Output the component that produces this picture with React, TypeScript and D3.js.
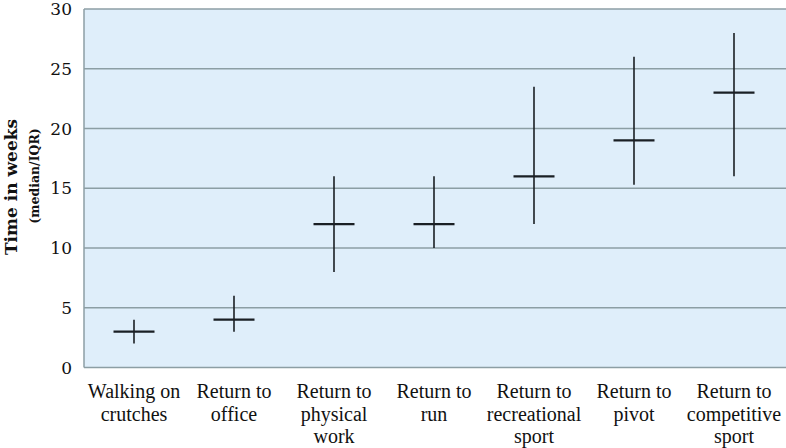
import React from 'react'
import { scaleBand, scaleLinear } from 'd3'

const categories = [
  ['Walking on', 'crutches'],
  ['Return to', 'office'],
  ['Return to', 'physical', 'work'],
  ['Return to', 'run'],
  ['Return to', 'recreational', 'sport'],
  ['Return to', 'pivot'],
  ['Return to', 'competitive', 'sport'],
]
const medians = [3, 4, 12, 12, 16, 19, 23]
const lows = [2, 3, 8, 10, 12, 15.3, 16]
const highs = [4, 6, 16, 16, 23.5, 26, 28]
const yTicks = [0, 5, 10, 15, 20, 25, 30]

const W = 786
const H = 448
const left = 84
const right = 784
const top = 9
const bottom = 367.5

export default function App() {
  const x = scaleBand<number>()
    .domain(categories.map((_, i) => i))
    .range([left, right])
  const y = scaleLinear().domain([0, 30]).range([bottom, top])
  const half = 20.5

  return (
    <svg width={W} height={H} style={{ position: 'absolute', left: 0, top: 0 }}>
      <rect x={left} y={top} width={W - left} height={bottom - top} fill="#dfeefa" />
      {yTicks.map(t => (
        <g key={t}>
          {t > 0 && (
            <line x1={left} x2={W} y1={y(t)} y2={y(t)} stroke="#8c9ea4" strokeWidth={1.5} />
          )}
          <text
            x={72}
            y={y(t)}
            dy="0.36em"
            textAnchor="end"
            fontFamily="'DejaVu Serif', serif"
            fontSize={17}
            fill="#111"
          >
            {t}
          </text>
        </g>
      ))}
      <line x1={left} x2={left} y1={top} y2={bottom} stroke="#8c9ea4" strokeWidth={1.5} />
      <line x1={left} x2={W} y1={bottom} y2={bottom} stroke="#8c9ea4" strokeWidth={1.5} />

      {categories.map((c, i) => {
        const cx = x(i)! + x.bandwidth() / 2
        return (
          <g key={i}>
            <line x1={cx} x2={cx} y1={y(lows[i])} y2={y(highs[i])} stroke="#1a1f24" strokeWidth={1.6} />
            <line
              x1={cx - half}
              x2={cx + half}
              y1={y(medians[i])}
              y2={y(medians[i])}
              stroke="#1a1f24"
              strokeWidth={2.2}
            />
            <text
              x={cx}
              textAnchor="middle"
              fontFamily="'Times New Roman', 'Liberation Serif', Times, serif"
              fontSize={20}
              fill="#111"
            >
              {c.map((line, j) => (
                <tspan key={j} x={cx} y={398 + j * 22.5}>
                  {line}
                </tspan>
              ))}
            </text>
          </g>
        )
      })}

      <text
        transform="translate(17,187) rotate(-90)"
        textAnchor="middle"
        fontFamily="'DejaVu Serif', serif"
        fontWeight="bold"
        fontSize={17}
        fill="#111"
      >
        Time in weeks
      </text>
      <text
        transform="translate(39,176) rotate(-90)"
        textAnchor="middle"
        fontFamily="'DejaVu Serif', serif"
        fontWeight="bold"
        fontSize={12.5}
        fill="#111"
      >
        (median/IQR)
      </text>
    </svg>
  )
}
